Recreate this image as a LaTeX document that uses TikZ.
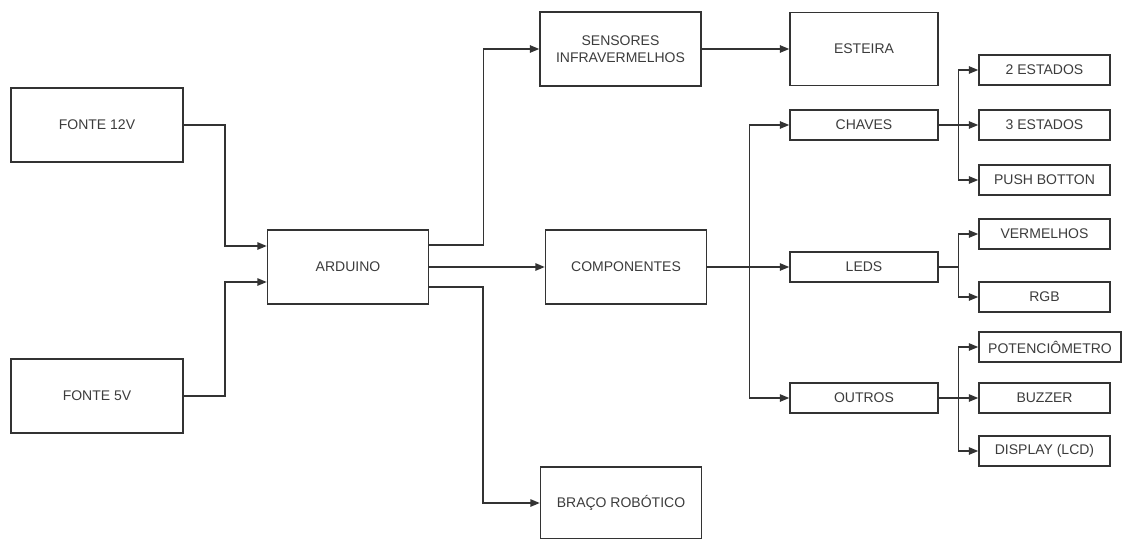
\documentclass[tikz,border=0pt]{standalone}
\usepackage{fontspec}
\setmainfont{Liberation Sans}
\usetikzlibrary{arrows.meta,calc}
\definecolor{ln}{HTML}{333333}
\definecolor{tx}{HTML}{3C3C3C}
\tikzset{
  x=0.75pt, y=-0.75pt,
  box/.style={draw=ln, line width=1.1pt, fill=white, inner sep=0pt, align=center,
    text=tx, font=\fontsize{10.5}{12.5}\selectfont},
  bigbox/.style={box, minimum width=161*0.75pt, minimum height=74*0.75pt},
  srcbox/.style={box, minimum width=172*0.75pt, minimum height=74*0.75pt},
  midbox/.style={box, minimum width=148*0.75pt, minimum height=30*0.75pt},
  smallbox/.style={box, minimum width=131*0.75pt, minimum height=30*0.75pt},
  conn/.style={draw=ln, line width=1.1pt},
  arr/.style={conn, -{Triangle[length=7pt, width=5.5pt]}},
}
\begin{document}
\begin{tikzpicture}
\useasboundingbox (0,0) rectangle (1128,539);
\node[srcbox] (f12) at (97,125) {FONTE 12V};
\node[srcbox] (f5) at (97,396) {FONTE 5V};
\node[bigbox] (ard) at (348,267) {ARDUINO};
\node[bigbox] (sen) at (620.5,49) {SENSORES\\INFRAVERMELHOS};
\node[box, minimum width=148*0.75pt, minimum height=73*0.75pt] (est) at (864,49) {ESTEIRA};
\node[bigbox] (comp) at (626,267) {COMPONENTES};
\node[bigbox, minimum height=72*0.75pt] (bra) at (621,503) {BRAÇO ROBÓTICO};
\node[midbox] (chv) at (864,125) {CHAVES};
\node[midbox] (led) at (864,267) {LEDS};
\node[midbox] (out) at (864,398) {OUTROS};
\node[smallbox] (e2) at (1044.5,70) {2 ESTADOS};
\node[smallbox] (e3) at (1044.5,125) {3 ESTADOS};
\node[smallbox] (pb) at (1044.5,180) {PUSH BOTTON};
\node[smallbox] (verm) at (1044.5,234) {VERMELHOS};
\node[smallbox] (rgb) at (1044.5,297) {RGB};
\node[smallbox, minimum width=142*0.75pt] (pot) at (1050,347) {POTENCIÔMETRO};
\node[smallbox] (buz) at (1044.5,398) {BUZZER};
\node[smallbox] (disp) at (1044.5,451) {DISPLAY (LCD)};

\draw[arr] (f12.east) -| ($(ard.west)+(-42,-21)$) -- ($(ard.west)+(0,-21)$);
\draw[arr] (f5.east) -| ($(ard.west)+(-42,15)$) -- ($(ard.west)+(0,15)$);
\draw[arr] ($(ard.east)+(0,-22)$) -| ($(sen.west)+(-56,0)$) -- (sen.west);
\draw[arr] (ard.east) -- (comp.west);
\draw[arr] ($(ard.east)+(0,20)$) -| ($(bra.west)+(-57,0)$) -- (bra.west);
\draw[arr] (sen.east) -- (est.west);
\draw[arr] (comp.east) -- (led.west);
\coordinate (tr) at ($(comp.east)+(42,0)$);
\draw[arr] (tr) |- (chv.west);
\draw[arr] (tr) |- (out.west);
\coordinate (cb) at ($(chv.east)+(20,0)$);
\draw[arr] (chv.east) -- (e3.west);
\draw[arr] (cb) |- (e2.west);
\draw[arr] (cb) |- (pb.west);
\coordinate (lb) at ($(led.east)+(20,0)$);
\draw[conn] (led.east) -- (lb);
\draw[arr] (lb) |- (verm.west);
\draw[arr] (lb) |- (rgb.west);
\coordinate (ob) at ($(out.east)+(20,0)$);
\draw[arr] (out.east) -- (buz.west);
\draw[arr] (ob) |- (pot.west);
\draw[arr] (ob) |- (disp.west);
\end{tikzpicture}
\end{document}
